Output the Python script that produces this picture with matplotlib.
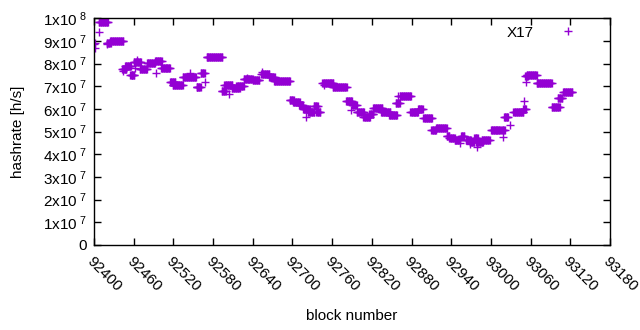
import numpy as np
import matplotlib
matplotlib.use("Agg")
import matplotlib.pyplot as plt

# runs of blocks with the same hashrate (start block, end block, hashrate in 1e7 h/s)
run_start = [92407, 92419, 92424, 92442, 92447, 92455, 92460, 92469, 92480, 92492,
             92501, 92515, 92519, 92534, 92555, 92561, 92570, 92593, 92597, 92608,
             92615, 92626, 92640, 92653, 92665, 92672, 92696, 92701, 92710, 92716,
             92723, 92732, 92736, 92745, 92761, 92781, 92790, 92797, 92807, 92816,
             92822, 92834, 92846, 92856, 92862, 92878, 92890, 92898, 92910, 92917,
             92933, 92937, 92945, 92955, 92962, 92968, 92975, 92978, 92986, 93000,
             93016, 93020, 93034, 93049, 93052, 93054, 93069, 93092, 93101, 93109]
run_end = [92421, 92425, 92444, 92449, 92456, 92461, 92471, 92480, 92492, 92502,
           92515, 92523, 92534, 92554, 92561, 92567, 92594, 92599, 92609, 92620,
           92626, 92640, 92650, 92665, 92673, 92696, 92702, 92711, 92716, 92726,
           92733, 92738, 92742, 92762, 92782, 92790, 92797, 92808, 92817, 92822,
           92836, 92848, 92858, 92862, 92879, 92890, 92897, 92911, 92917, 92933,
           92937, 92945, 92953, 92960, 92970, 92975, 92980, 92988, 92998, 93014,
           93021, 93026, 93049, 93053, 93056, 93069, 93092, 93104, 93108, 93123]
run_val = [9.85, 8.9, 9.0, 7.75, 7.9, 7.5, 8.05, 7.75, 8.04, 8.09,
           7.81, 7.2, 7.05, 7.41, 6.96, 7.58, 8.27, 6.78, 7.07, 6.92,
           7.0, 7.31, 7.27, 7.52, 7.4, 7.22, 6.39, 6.3, 6.17, 5.99,
           5.87, 6.12, 5.86, 7.12, 6.95, 6.33, 6.17, 5.85, 5.64, 5.78,
           6.04, 5.88, 5.73, 6.27, 6.55, 5.86, 5.99, 5.58, 5.08, 5.17,
           4.82, 4.7, 4.63, 4.8, 4.63, 4.54, 4.71, 4.54, 4.63, 5.07,
           5.05, 5.63, 5.87, 5.98, 7.46, 7.49, 7.15, 6.07, 6.49, 6.74]

# single scattered blocks
pt_block = [92400, 92401, 92402, 92407, 92420, 92443, 92457, 92462, 92465, 92493,
            92545, 92556, 92568, 92604, 92631, 92654, 92721, 92747, 92788, 92860,
            92954, 92968, 92979, 93018, 93029, 93050, 93053]
pt_val = [8.85, 8.7, 8.9, 9.37, 8.84, 7.68, 7.49, 7.8, 8.15, 7.6,
          7.56, 6.95, 7.17, 6.64, 7.35, 7.63, 5.63, 7.05, 5.95, 6.56,
          4.5, 4.45, 4.33, 4.74, 5.29, 6.36, 7.19]

blocks = np.concatenate([np.arange(s, e + 1) for s, e in zip(run_start, run_end)] + [np.array(pt_block)])
rates = np.concatenate([np.full(e - s + 1, v) for s, e, v in zip(run_start, run_end, run_val)] + [np.array(pt_val)]) * 1e7

plt.rcParams["font.family"] = ["Liberation Sans", "DejaVu Sans"]
plt.rcParams["mathtext.fontset"] = "custom"
plt.rcParams["mathtext.rm"] = "Liberation Sans"

FS = 11

fig = plt.figure(figsize=(6.4, 3.3), dpi=100)
ax = fig.add_axes([0.147, 0.2576, 0.806, 0.6874])

ax.plot(blocks, rates, linestyle="none", marker="+", markersize=5.2, mew=1.0,
        color="#9400d3", label="X17")

ax.set_xlim(92400, 93180)
ax.set_ylim(0, 1e8)
xt = np.arange(92400, 93181, 60)
ax.set_xticks(xt)
ax.set_xticklabels([str(v) for v in xt], rotation=-45, ha="left", va="top",
                   rotation_mode="anchor")
yt = np.arange(0, 11) * 1e7
ax.set_yticks(yt)
ylabels = ["0"] + [r"$\mathregular{%dx10^{\ 7}}$" % i for i in range(1, 10)] + [r"$\mathregular{1x10^{\ 8}}$"]
ax.set_yticklabels(ylabels)

ax.tick_params(direction="in", top=True, right=True, length=5, width=1, labelsize=FS, pad=5)
ax.tick_params(axis="x", pad=7)
for sp in ax.spines.values():
    sp.set_linewidth(1)

ax.set_xlabel("block number", fontsize=FS, labelpad=10)
ax.set_ylabel("hashrate [h/s]", fontsize=FS, labelpad=13)

ax.legend(loc="upper right", frameon=False, markerfirst=False, fontsize=FS,
          handlelength=2.5, handletextpad=1.0, borderaxespad=0.1,
          bbox_to_anchor=(0.97, 1.0))

fig.savefig("out.png", dpi=100)
